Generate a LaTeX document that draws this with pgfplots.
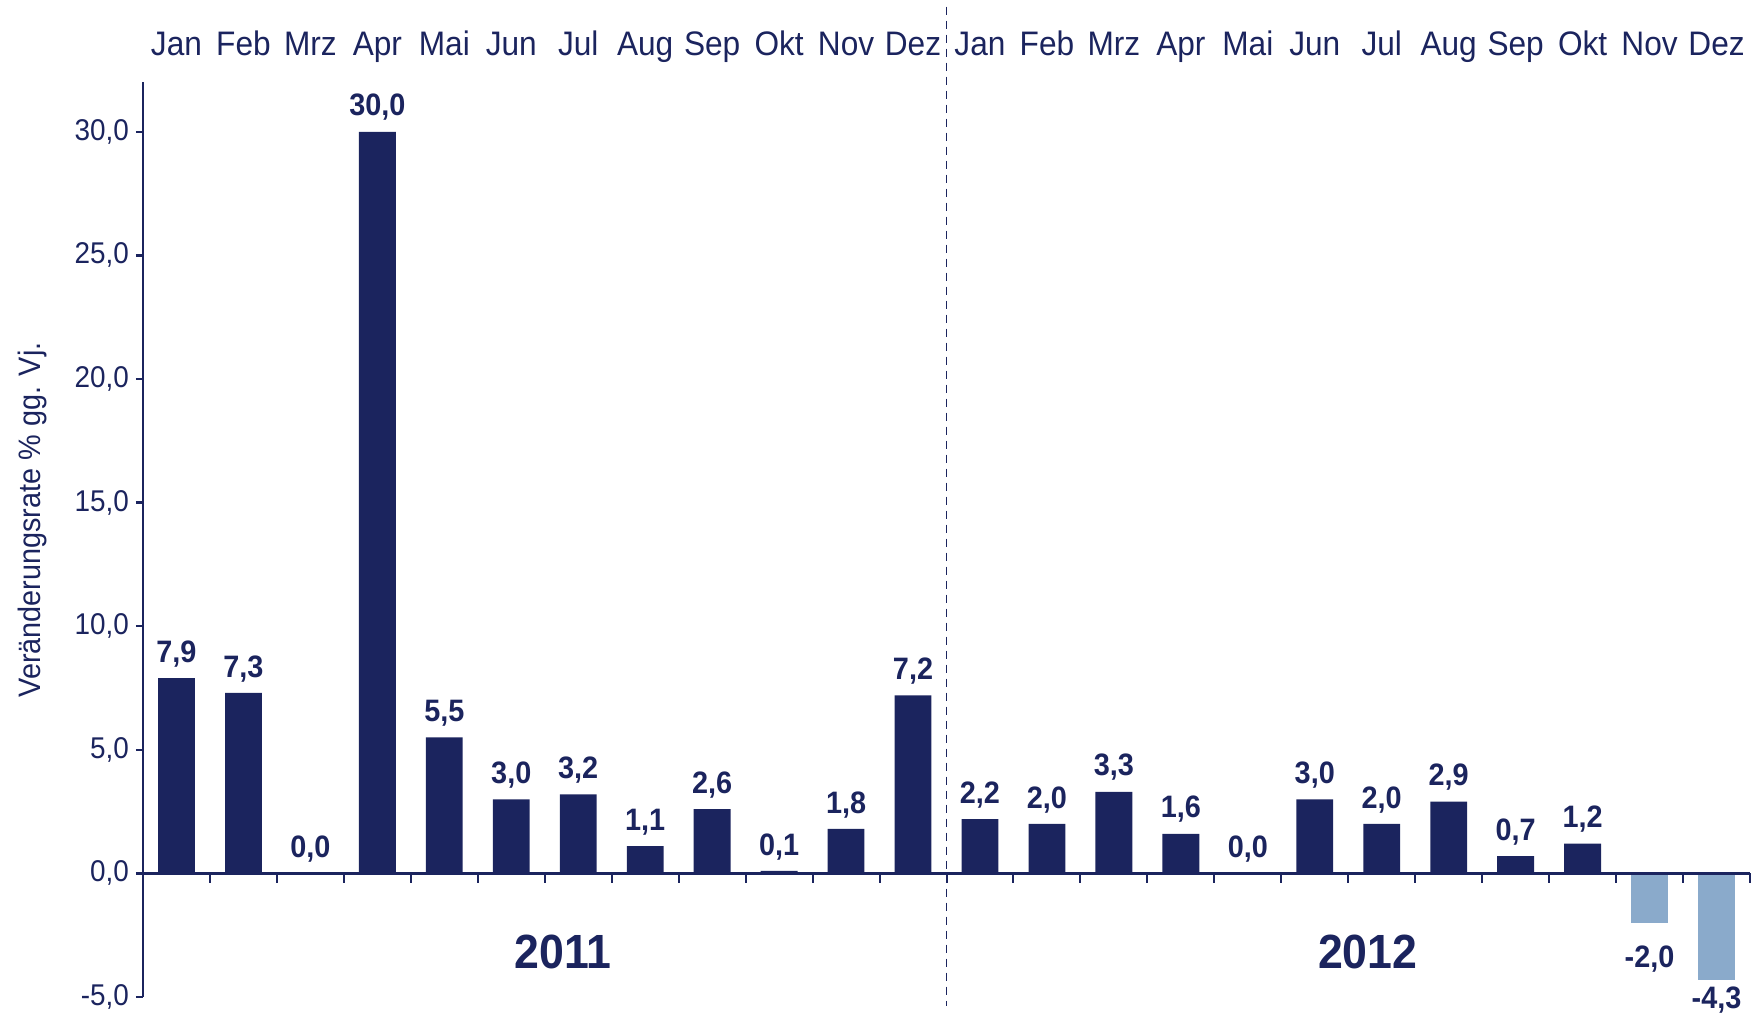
\documentclass[border=0pt]{standalone}
\usepackage{pgfplots}
\pgfplotsset{compat=1.18}
\usepackage{fontspec}
\setmainfont[FakeStretch=0.93]{Liberation Sans}
\definecolor{navy}{RGB}{27,36,94}
\definecolor{lightb}{RGB}{138,170,203}

\begin{document}
\begin{tikzpicture}
\begin{axis}[
  scale only axis, width=803.5pt, height=457.3pt,
  xmin=-0.5, xmax=23.5, ymin=-5, ymax=32,
  axis y line*=left, axis x line*=top,
  x axis line style={draw=none},
  y axis line style={navy, line width=1.3pt},
  xtick={0,...,23},
  xticklabels={Jan,Feb,Mrz,Apr,Mai,Jun,Jul,Aug,Sep,Okt,Nov,Dez,Jan,Feb,Mrz,Apr,Mai,Jun,Jul,Aug,Sep,Okt,Nov,Dez},
  xtick style={draw=none},
  xticklabel style={font=\fontsize{17}{20}\selectfont, text=navy, anchor=base, yshift=10pt},
  ytick={-5,0,5,10,15,20,25,30},
  tick align=outside, major tick length=3.5pt,
  ytick style={navy, line width=1.2pt},
  yticklabel={\pgfmathprintnumber[fixed,fixed zerofill,precision=1,use comma,assume math mode=true]{\tick}},
  yticklabel style={font=\fontsize{15}{18}\selectfont, text=navy},
  ylabel={Veränderungsrate \% gg. Vj.},
  ylabel style={font=\fontsize{15.5}{18}\selectfont, text=navy, at={(axis description cs:-0.069,0.5216)}, anchor=center},
  ybar, bar width=0.55, bar shift=0pt,
  nodes near coords={\pgfmathprintnumber[fixed,fixed zerofill,precision=1,use comma,assume math mode=true]{\pgfplotspointmeta}},
  nodes near coords style={font=\bfseries\fontsize{15.5}{18}\selectfont, text=navy},
  clip=false,
]
\addplot[fill=navy, draw=none, nodes near coords style={yshift=2pt}] coordinates {(0,7.9) (1,7.3) (2,0) (3,30) (4,5.5) (5,3.0) (6,3.2) (7,1.1) (8,2.6) (9,0.1) (10,1.8) (11,7.2) (12,2.2) (13,2.0) (14,3.3) (15,1.6) (16,0) (17,3.0) (18,2.0) (19,2.9) (20,0.7) (21,1.2)};
\addplot[fill=lightb, draw=none, nodes near coords style={yshift=-8pt}] coordinates {(22,-2.0)};
\addplot[fill=lightb, draw=none] coordinates {(23,-4.3)};
\draw[navy, line width=1.3pt] (axis cs:-0.5,0) -- (axis cs:23.5,0);
\pgfplotsinvokeforeach{-0.5,0.5,...,23.5}{\draw[navy, line width=1pt] (axis cs:#1,0) -- ++(0pt,-5pt);}
\draw[navy, line width=0.9pt, dash pattern=on 4pt off 3pt] (axis cs:11.5,35.07) -- (axis cs:11.5,-5.38);
\node[font=\bfseries\fontsize{24}{28}\selectfont, text=navy, anchor=base] at (axis cs:5.77,-3.84) {2011};
\node[font=\bfseries\fontsize{24}{28}\selectfont, text=navy, anchor=base] at (axis cs:17.79,-3.84) {2012};
\coordinate (bl) at (rel axis cs:0,0);
\end{axis}
\pgfresetboundingbox
\path (bl) ++(-71.5pt,-10.5pt) rectangle ++(881pt,509pt);
\end{tikzpicture}
\end{document}
